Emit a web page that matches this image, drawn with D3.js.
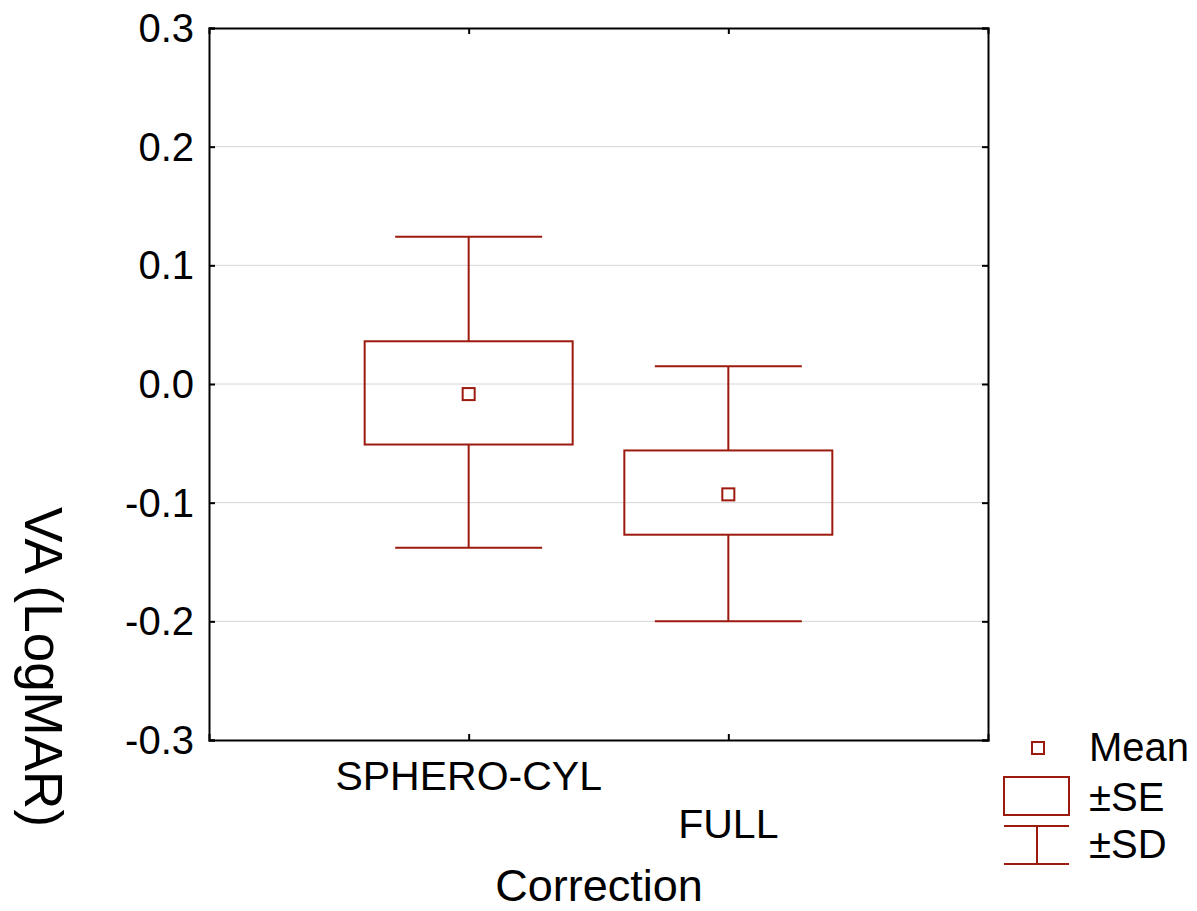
<!DOCTYPE html>
<html>
<head>
<meta charset="utf-8">
<script src="https://cdn.jsdelivr.net/npm/d3@7"></script>
<style>
  body { margin: 0; background: #fff; }
  text { font-family: "Liberation Sans", Arial, sans-serif; fill: #000; }
</style>
</head>
<body>
<div id="chart"></div>
<script>
// data
var categories = ['SPHERO-CYL', 'FULL'];
var means   = [-0.0085, -0.093];
var seLow   = [-0.051, -0.127];
var seHigh  = [0.036, -0.056];
var sdLow   = [-0.138, -0.200];
var sdHigh  = [0.124, 0.015];
var yTicks  = [-0.3, -0.2, -0.1, 0.0, 0.1, 0.2, 0.3];
var legendLabels = ['Mean', '\u00b1SE', '\u00b1SD'];

var W = 1197, H = 911,
    mLeft = 209, mRight = 988, mTop = 28, mBottom = 740,
    red = '#9c1a0e';

var svg = d3.select('#chart').append('svg')
    .attr('width', W)
    .attr('height', H);

var x = d3.scalePoint().domain(categories).range([mLeft, mRight]).padding(1);
var y = d3.scaleLinear().domain([-0.3, 0.3]).range([mBottom, mTop]);

// grid
svg.append('g').selectAll('line')
    .data(yTicks.slice(1, -1))
    .enter().append('line')
    .attr('x1', mLeft).attr('x2', mRight)
    .attr('y1', function (d) { return y(d); })
    .attr('y2', function (d) { return y(d); })
    .attr('stroke', '#d6d6d6')
    .attr('stroke-width', 1);

// frame axes, ticks pointing in
var fmt = function (d) { return d3.format('.1f')(d).replace('\u2212', '-'); };

var yl = svg.append('g').attr('transform', 'translate(' + mLeft + ',0)')
    .call(d3.axisRight(y).tickValues(yTicks).tickSize(6).tickFormat(''));
var yr = svg.append('g').attr('transform', 'translate(' + mRight + ',0)')
    .call(d3.axisLeft(y).tickValues(yTicks).tickSize(6).tickFormat(''));
var xb = svg.append('g').attr('transform', 'translate(0,' + mBottom + ')')
    .call(d3.axisTop(x).tickSize(6).tickFormat(''));
var xt = svg.append('g').attr('transform', 'translate(0,' + mTop + ')')
    .call(d3.axisBottom(x).tickSize(6).tickFormat(''));

[yl, yr, xb, xt].forEach(function (g) {
  g.selectAll('path.domain').attr('stroke', '#000').attr('stroke-width', 2);
  g.selectAll('.tick line').attr('stroke', '#000').attr('stroke-width', 2);
});

// y tick labels
svg.append('g').selectAll('text')
    .data(yTicks)
    .enter().append('text')
    .attr('x', 194)
    .attr('y', function (d) { return y(d); })
    .attr('dy', '0.35em')
    .attr('text-anchor', 'end')
    .style('font-size', '40px')
    .text(fmt);

// category labels, staggered
svg.append('g').selectAll('text')
    .data(categories)
    .enter().append('text')
    .attr('x', function (d) { return x(d); })
    .attr('y', function (d, i) { return i % 2 === 0 ? 790 : 838; })
    .attr('text-anchor', 'middle')
    .style('font-size', '41px')
    .text(function (d) { return d; });

// axis titles
svg.append('text')
    .attr('x', 599)
    .attr('y', 901)
    .attr('text-anchor', 'middle')
    .style('font-size', '45px')
    .text('Correction');

svg.append('text')
    .attr('transform', 'translate(25,667) rotate(90)')
    .attr('text-anchor', 'middle')
    .style('font-size', '53px')
    .text('VA (LogMAR)');

// boxes
var boxW = 208, capW = 147, meanS = 12;

var groups = svg.append('g').selectAll('g')
    .data(categories)
    .enter().append('g');

groups.append('line')
    .attr('x1', function (d) { return x(d); })
    .attr('x2', function (d) { return x(d); })
    .attr('y1', function (d, i) { return y(sdHigh[i]); })
    .attr('y2', function (d, i) { return y(seHigh[i]); });
groups.append('line')
    .attr('x1', function (d) { return x(d); })
    .attr('x2', function (d) { return x(d); })
    .attr('y1', function (d, i) { return y(seLow[i]); })
    .attr('y2', function (d, i) { return y(sdLow[i]); });
groups.append('line')
    .attr('x1', function (d) { return x(d) - capW / 2; })
    .attr('x2', function (d) { return x(d) + capW / 2; })
    .attr('y1', function (d, i) { return y(sdHigh[i]); })
    .attr('y2', function (d, i) { return y(sdHigh[i]); });
groups.append('line')
    .attr('x1', function (d) { return x(d) - capW / 2; })
    .attr('x2', function (d) { return x(d) + capW / 2; })
    .attr('y1', function (d, i) { return y(sdLow[i]); })
    .attr('y2', function (d, i) { return y(sdLow[i]); });
groups.append('rect')
    .attr('x', function (d) { return x(d) - boxW / 2; })
    .attr('y', function (d, i) { return y(seHigh[i]); })
    .attr('width', boxW)
    .attr('height', function (d, i) { return y(seLow[i]) - y(seHigh[i]); })
    .attr('fill', 'none');
groups.append('rect')
    .attr('x', function (d) { return x(d) - meanS / 2; })
    .attr('y', function (d, i) { return y(means[i]) - meanS / 2; })
    .attr('width', meanS)
    .attr('height', meanS)
    .attr('fill', 'none');

groups.selectAll('line, rect')
    .attr('stroke', red)
    .attr('stroke-width', 2);

// legend
var lg = svg.append('g');
lg.append('rect').attr('x', 1032).attr('y', 742).attr('width', 12).attr('height', 12)
    .attr('fill', 'none');
lg.append('rect').attr('x', 1004).attr('y', 777).attr('width', 65).attr('height', 38)
    .attr('fill', 'none');
lg.append('line').attr('x1', 1004).attr('x2', 1069).attr('y1', 826).attr('y2', 826);
lg.append('line').attr('x1', 1004).attr('x2', 1069).attr('y1', 864).attr('y2', 864);
lg.append('line').attr('x1', 1037).attr('x2', 1037).attr('y1', 826).attr('y2', 864);
lg.selectAll('rect, line').attr('stroke', red).attr('stroke-width', 2);

lg.selectAll('text')
    .data(legendLabels)
    .enter().append('text')
    .attr('x', 1089)
    .attr('y', function (d, i) { return [761, 811, 858][i]; })
    .style('font-size', '40px')
    .text(function (d) { return d; });
</script>
</body>
</html>
